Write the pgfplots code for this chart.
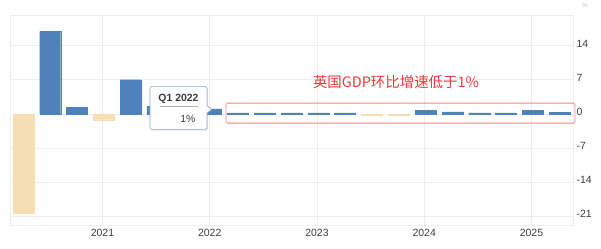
\documentclass[border=0pt]{standalone}
\usepackage{pgfplots}
\pgfplotsset{compat=1.18}
\usepackage{fontspec}
\setmainfont{Liberation Sans}
\newfontfamily\cjk{Noto Sans CJK SC}
\usetikzlibrary{shadows}
\definecolor{barblue}{RGB}{79,129,189}
\definecolor{bartan}{RGB}{245,222,179}
\definecolor{redtext}{RGB}{232,58,58}
\definecolor{redbox}{RGB}{240,130,130}
\definecolor{tipborder}{RGB}{140,165,200}
\definecolor{gridc}{RGB}{238,238,238}
\definecolor{labc}{RGB}{60,60,60}

\pgfplotstableread{
x y
-2 16.9
-1 1.3
1 7.0
2 1.5
3 1.4
4 1.0
5 0.2
6 0.2
7 0.2
8 0.2
9 0.2
12 0.7
13 0.4
14 0.2
15 0.2
16 0.7
17 0.3
}\positive
\pgfplotstableread{
x y
-3 -20.4
0 -1.2
10 -0.2
11 -0.2
}\negative

\begin{document}
\begin{tikzpicture}
\path (0,0) rectangle (601bp,247bp);
\begin{axis}[
  at={(10bp,23bp)}, anchor=south west,
  scale only axis, width=563bp, height=210bp,
  xmin=-3.5, xmax=17.5, ymin=-22.9, ymax=20.2,
  xtick={-0.05,3.95,7.95,11.95,15.95},
  xticklabels={2021,2022,2023,2024,2025},
  ytick={-21,-14,-7,0,7,14},
  yticklabels={-21,-14,-7,0,7,14},
  yticklabel pos=right,
  yticklabel style={yshift=2bp},
  grid=major,
  major grid style={draw=gridc, line width=0.6bp},
  axis line style={draw=gridc, line width=0.8bp},
  major tick length=0pt,
  tick style={draw=none},
  ticklabel style={font=\fontsize{10.5}{12}\selectfont, text=labc},
  ybar, bar width=21bp,
  clip=false,
]
\addplot[fill=barblue, draw=barblue, line width=0.3bp, bar shift=0pt] table[x=x,y=y] {\positive};
\addplot[fill=bartan, draw=bartan, line width=0.3bp, bar shift=0pt] table[x=x,y=y] {\negative};
\end{axis}
\begin{scope}[x=1bp,y=1bp]
% tooltip
\draw[tipborder, fill=white, rounded corners=2bp, line width=0.6bp,
  drop shadow={opacity=0.18, shadow xshift=1bp, shadow yshift=-1.2bp}]
  (150,119) rectangle (207,162);
\fill[white] (206.4,143) -- (211.5,139) -- (206.4,135) -- cycle;
\draw[tipborder, line width=0.6bp] (207,143) -- (211.5,139) -- (207,135);
\node[font=\bfseries\fontsize{10.5}{12}\selectfont, text=labc] at (178.5,149.5) {Q1 2022};
\draw[gray!60, line width=0.5bp] (159.5,142) -- (198,142);
\node[anchor=east, font=\fontsize{10.5}{12}\selectfont, text=labc] at (199,130) {1\%};
% annotation
\node[text=redtext, font=\cjk\fontsize{14.5}{16}\selectfont] at (396,166.5) {英国GDP环比增速低于1\%};
\draw[redbox, rounded corners=1.5bp, line width=0.8bp] (226,125.3) rectangle (575,145.3);
\node[text=gray!50, font=\fontsize{6}{7}\selectfont] at (585,243) {\%};
\end{scope}
\end{tikzpicture}
\end{document}
